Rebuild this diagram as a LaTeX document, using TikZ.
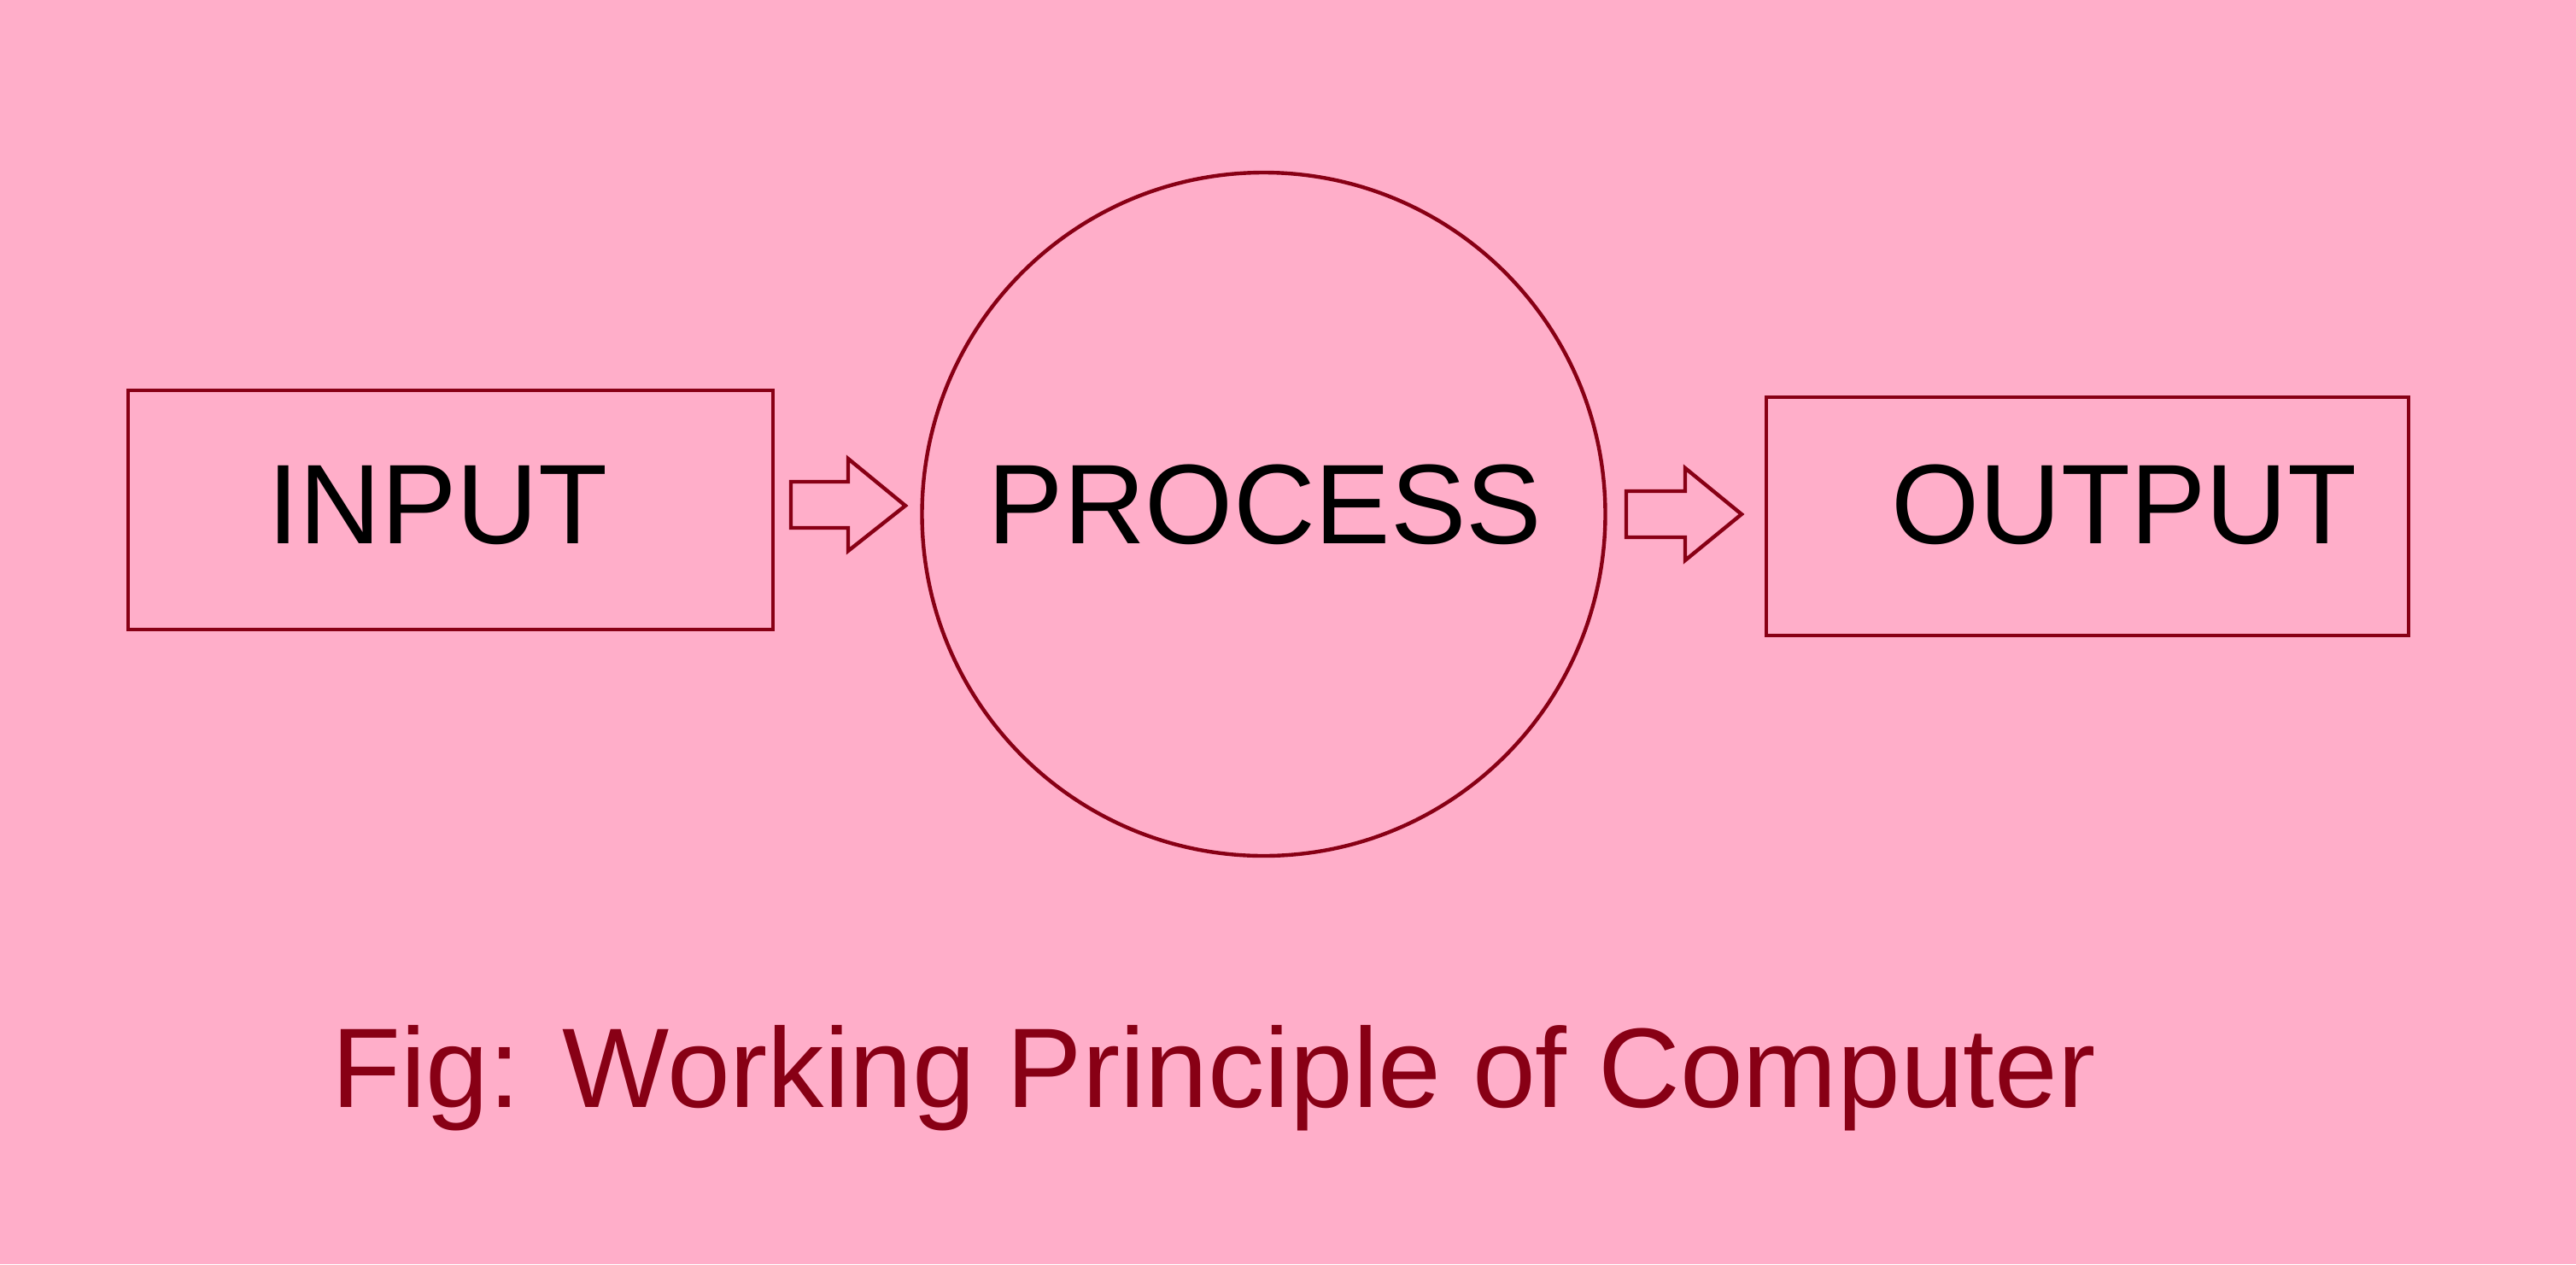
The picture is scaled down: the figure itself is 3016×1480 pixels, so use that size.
\documentclass[tikz,border=0pt]{standalone}
\usepackage{fontspec}
\setmainfont{Liberation Sans}
\definecolor{bgpink}{HTML}{FFAEC9}
\definecolor{darkred}{HTML}{880015}
\begin{document}
\begin{tikzpicture}[x=0.5pt,y=-0.5pt,
  outline/.style={draw=darkred,line width=2.2pt},
  boxnode/.style={outline,rectangle,inner sep=0pt},
  labeltext/.style={inner sep=0pt,anchor=base,text=black,font=\fontsize{66.3}{80}\selectfont},
  captiontext/.style={inner sep=0pt,anchor=base,text=darkred,font=\fontsize{66.3}{80}\selectfont},
  blockarrow/.style={outline,line join=miter}]
\fill[bgpink] (0,0) rectangle (3016,1480);
\useasboundingbox (0,0) rectangle (3016,1480);
% boxes and circle
\node[boxnode,minimum width=377.5pt,minimum height=140pt] (inbox) at (527.5,597) {};
\node[outline,circle,inner sep=0pt,minimum size=400pt] (proc) at (1479.5,602) {};
\node[boxnode,minimum width=376pt,minimum height=139.5pt] (outbox) at (2444,604.5) {};
% labels
\node[labeltext] (intext) at (512.5,636) {INPUT};
\node[labeltext] (proctext) at (1481,636) {PROCESS};
\node[labeltext] (outtext) at (2487,636) {OUTPUT};
\node[captiontext] (cap) at (1421,1296) {Fig: Working Principle of Computer};
% block arrows
\draw[blockarrow] (926,564) -- (993,564) -- (993,537) -- (1060,592) -- (993,645) -- (993,618) -- (926,618) -- cycle;
\draw[blockarrow] (1904,575) -- (1973,575) -- (1973,548) -- (2039,602) -- (1973,656) -- (1973,629) -- (1904,629) -- cycle;
\end{tikzpicture}
\end{document}
